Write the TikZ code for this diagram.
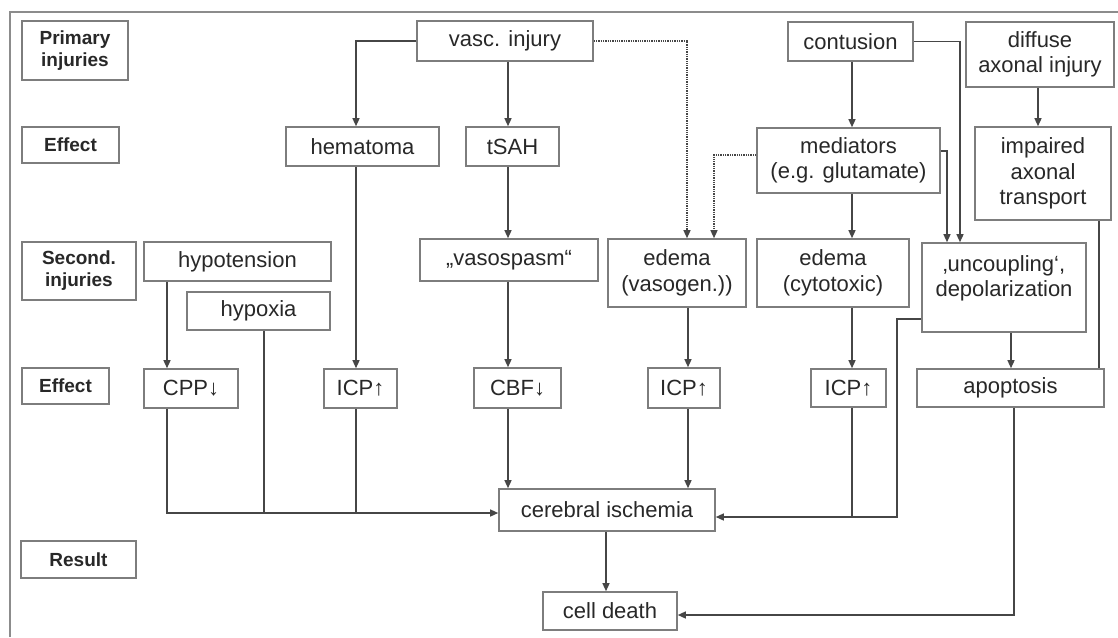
\documentclass[tikz,border=0pt]{standalone}
\usepackage{fontspec}
\setmainfont{Liberation Sans}
\usetikzlibrary{arrows.meta}
\definecolor{boxgray}{RGB}{125,125,125}
\definecolor{linegray}{RGB}{70,70,70}
\definecolor{textgray}{RGB}{40,40,40}
\definecolor{framegray}{RGB}{140,140,140}
\tikzset{
  box/.style={draw=boxgray, line width=1.6pt, fill=white, inner sep=0pt, align=center, text=textgray,
              font=\fontsize{22}{25.5}\selectfont},
  lab/.style={draw=boxgray, line width=1.6pt, fill=white, inner sep=0pt, align=center, text=textgray,
              font=\fontsize{19}{22}\selectfont\bfseries},
  conn/.style={draw=linegray, line width=1.3pt},
  arr/.style={conn, -{Triangle[length=8pt,width=7pt]}},
  dotarr/.style={arr, densely dotted},
  frameline/.style={draw=framegray, line width=1.6pt}
}
\begin{document}
\begin{tikzpicture}[x=1pt,y=-1pt]
\useasboundingbox (0,0) rectangle (1118,637);
\draw[frameline] (10,637) -- (10,12) -- (1118,12);

% row labels
\node[lab, minimum width=106pt, minimum height=59pt] (l1) at (75,50.5) {Primary\\injuries};
\node[lab, minimum width=97pt, minimum height=36pt] (l2) at (70.5,145) {Effect};
\node[lab, minimum width=114pt, minimum height=58pt] (l3) at (79,271) {Second.\\injuries};
\node[lab, minimum width=87pt, minimum height=36pt] (l4) at (65.5,386) {Effect};
\node[lab, minimum width=115pt, minimum height=37pt] (l5) at (78.5,559.5) {Result};

% boxes
\node[box, minimum width=176pt, minimum height=40pt] (vasc) at (505,41) {vasc. injury};
\node[box, minimum width=153pt, minimum height=39pt] (hema) at (362.5,146.5) {hematoma};
\node[box, minimum width=93pt, minimum height=39pt] (tsah) at (512.5,146.5) {tSAH};
\node[box, minimum width=125pt, minimum height=39pt] (cont) at (850.5,41.5) {contusion};
\node[box, minimum width=148pt, minimum height=65pt] (dai) at (1040,54.5) {diffuse\\axonal injury};
\node[box, minimum width=183pt, minimum height=65pt] (med) at (848.5,160.5) {mediators\\(e.g. glutamate)};
\node[box, minimum width=136pt, minimum height=93pt] (iat) at (1043,173.5) {impaired\\axonal\\transport};
\node[box, minimum width=187pt, minimum height=39pt] (hypot) at (237.5,261.5) {hypotension};
\node[box, minimum width=143pt, minimum height=38pt] (hypox) at (258.5,311) {hypoxia};
\node[box, minimum width=178pt, minimum height=42pt] (vaso) at (509,260) {„vasospasm“};
\node[box, minimum width=138pt, minimum height=68pt] (edv) at (677,273) {edema\\(vasogen.))};
\node[box, minimum width=152pt, minimum height=68pt] (edc) at (833,273) {edema\\(cytotoxic)};
\node[box, minimum width=164pt, minimum height=89pt] (unc) at (1004,287.5) {‚uncoupling‘,\\depolarization\\[-10pt]\strut};
\node[box, minimum width=187pt, minimum height=38pt] (apop) at (1010.5,388) {apoptosis};
\node[box, minimum width=94pt, minimum height=39pt] (cpp) at (191,388.5) {CPP↓};
\node[box, minimum width=73pt, minimum height=39pt] (icpa) at (360.5,388.5) {ICP↑};
\node[box, minimum width=87pt, minimum height=40pt] (cbf) at (517.5,388) {CBF↓};
\node[box, minimum width=72pt, minimum height=40pt] (icpb) at (684,388) {ICP↑};
\node[box, minimum width=75pt, minimum height=38pt] (icpc) at (848.5,388) {ICP↑};
\node[box, minimum width=216pt, minimum height=42pt] (isch) at (607,510) {cerebral ischemia};
\node[box, minimum width=134pt, minimum height=38pt] (death) at (610,611) {cell death};

% helper x positions
\coordinate (xH) at (356,0);
\coordinate (xT) at (508,0);
\coordinate (xV) at (687,0);
\coordinate (xE) at (688,0);
\coordinate (xM) at (714,0);
\coordinate (xC) at (852,0);
\coordinate (xMu) at (947,0);
\coordinate (xCu) at (960,0);
\coordinate (xD) at (1038,0);
\coordinate (xI) at (1099,0);
\coordinate (xU) at (1011,0);
\coordinate (xL) at (897,0);
\coordinate (xP) at (167,0);
\coordinate (xX) at (264,0);
\coordinate (xAp) at (1014,0);
\coordinate (xIs) at (606,0);
\coordinate (isR) at ([yshift=-7pt]isch.east);
\coordinate (isL) at ([yshift=-3pt]isch.west);
\coordinate (dR) at ([yshift=-4pt]death.east);
\coordinate (medL) at ([yshift=5.5pt]med.west);
\coordinate (medR) at ([yshift=9.5pt]med.east);
\coordinate (uncL) at ([yshift=-31.5pt]unc.west);

% connectors
\draw[arr] (vasc.west) -| (hema.north -| xH);
\draw[arr] (vasc.south -| xT) -- (tsah.north -| xT);
\draw[dotarr] (vasc.east) -| (edv.north -| xV);
\draw[dotarr] (medL) -| (edv.north -| xM);
\draw[arr] (hema.south -| xH) -- (icpa.north -| xH);
\draw[arr] (tsah.south -| xT) -- (vaso.north -| xT);
\draw[arr] (vaso.south -| xT) -- (cbf.north -| xT);
\draw[arr] (edv.south -| xE) -- (icpb.north -| xE);
\draw[arr] (cont.south -| xC) -- (med.north -| xC);
\draw[arr] (cont.east) -| (unc.north -| xCu);
\draw[arr] (medR) -| (unc.north -| xMu);
\draw[arr] (dai.south -| xD) -- (iat.north -| xD);
\draw[conn] (iat.south -| xI) -- (apop.north -| xI);
\draw[arr] (med.south -| xC) -- (edc.north -| xC);
\draw[arr] (edc.south -| xC) -- (icpc.north -| xC);
\draw[arr] (unc.south -| xU) -- (apop.north -| xU);
\draw[arr] (uncL) -| (isR -| xL) -- (isR);
\draw[conn] (icpc.south -| xC) -- (isR -| xC);
\draw[arr] (apop.south -| xAp) |- (dR);
\draw[arr] (isch.south -| xIs) -- (death.north -| xIs);
\draw[arr] (cbf.south -| xT) -- (isch.north -| xT);
\draw[arr] (icpb.south -| xE) -- (isch.north -| xE);
\draw[arr] (hypot.south -| xP) -- (cpp.north -| xP);
\draw[arr] (cpp.south -| xP) |- (isL);
\draw[conn] (hypox.south -| xX) -- (isL -| xX);
\draw[conn] (icpa.south -| xH) -- (isL -| xH);
\end{tikzpicture}
\end{document}
